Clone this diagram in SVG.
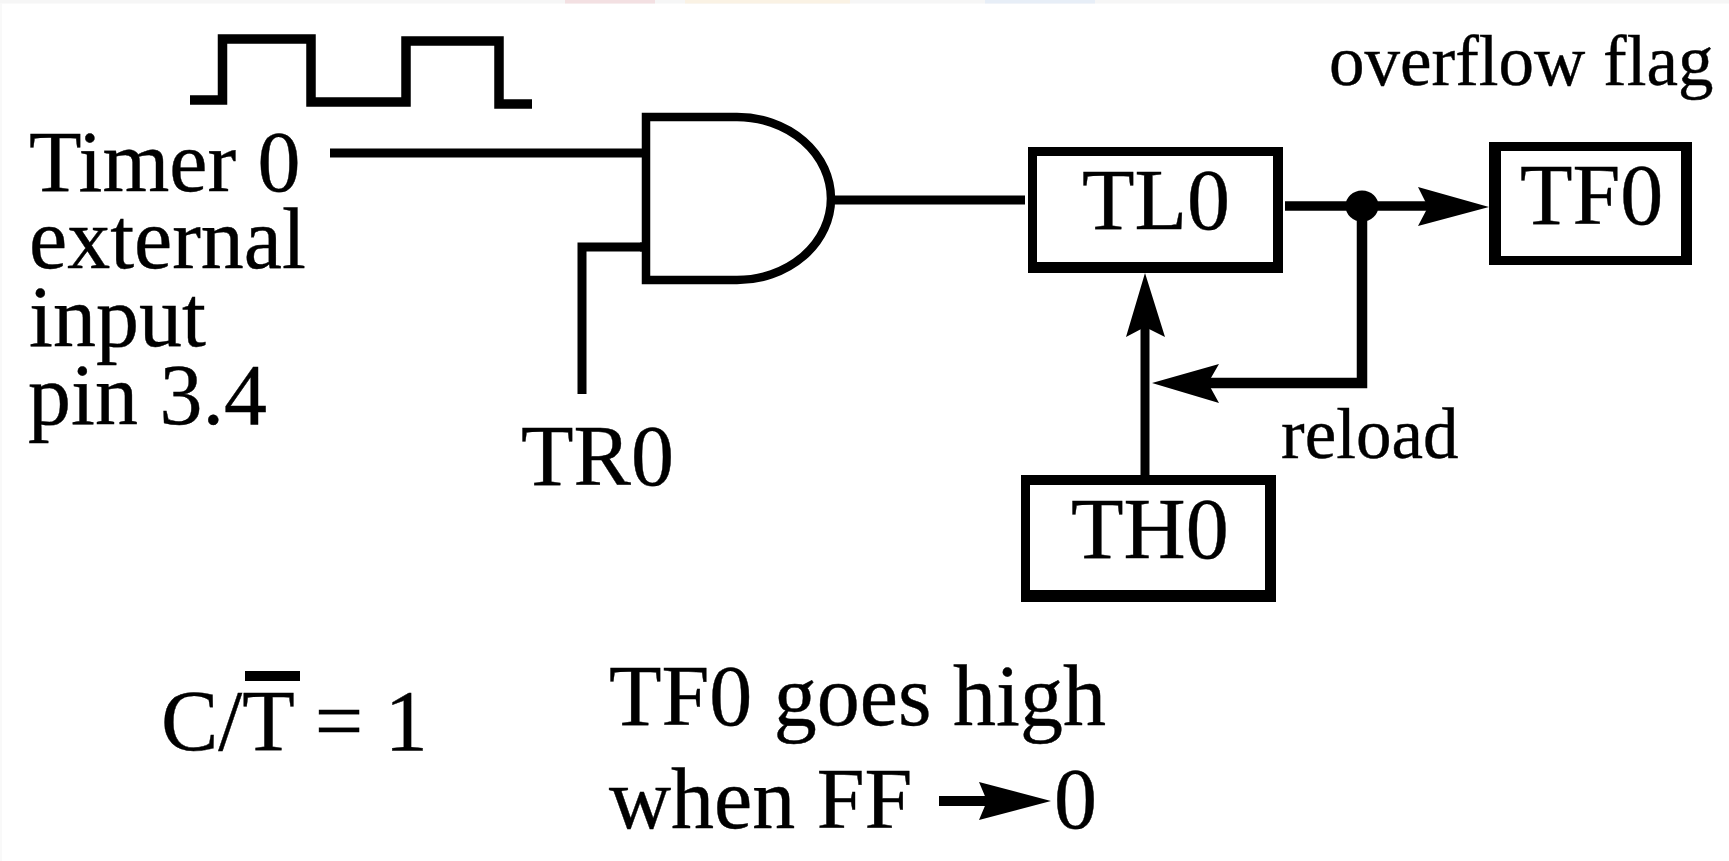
<svg xmlns="http://www.w3.org/2000/svg" width="1729" height="861" viewBox="0 0 1729 861">
<style>
text{font-family:"Liberation Serif","Times New Roman",serif;fill:#000;stroke:#000;stroke-width:.4}
.l{font-size:86px}
.s{font-size:71px}
.w{fill:none;stroke:#000;stroke-width:9}
.b{fill:#fff;stroke:#000;stroke-width:8.500}
.o{fill:#000}
.i{fill:#fff}
.h{fill:#000;stroke:none}
</style>
<rect width="1729" height="861" fill="#fff"/>
<rect width="1729" height="3.500" fill="#f6f6f6"/>
<rect y="3" width="2" height="858" fill="#f9f9f9"/>
<rect x="565" width="90" height="3.500" fill="#f3e0e2"/>
<rect x="685" width="165" height="3.500" fill="#faf2e4"/>
<rect x="985" width="110" height="3.500" fill="#e7eef7"/>
<g id="clock"><path class="w" style="stroke-width:9.500" d="M190 100H222.500V39H311V102H406V41H499V104H532"/></g>
<g id="connectors">
<path class="w" d="M330 153H646"/>
<path class="w" d="M582 394V247H650"/>
<path class="w" d="M834 200H1025"/>
<path class="w" style="stroke-width:9.500" d="M1285 206H1432"/>
<path class="w" style="stroke-width:10.500" d="M1362 206V383H1200"/>
<path class="w" d="M1145 476V320"/>
<polygon class="h" points="1489,207 1418,187 1428,207 1418,226"/>
<polygon class="h" points="1152,383 1219,364 1208,383 1219,403"/>
<polygon class="h" points="1145,273 1126,337 1145,327 1165,337"/>
<ellipse class="h" cx="1362" cy="206" rx="16.500" ry="15.500"/>
</g>
<g id="and-gate"><path class="b" d="M646 117H737A94 81.500 0 0 1 737 280H646Z"/><path class="w" d="M640 247H650"/></g>
<g id="tl0"><rect class="o" x="1028" y="147" width="255" height="126"/><rect class="i" x="1037" y="156" width="236" height="106"/><text class="l" x="1082" y="229">TL0</text></g>
<g id="tf0"><rect class="o" x="1489" y="142" width="203" height="123"/><rect class="i" x="1501" y="151" width="180" height="105"/><text class="l" x="1520" y="224">TF0</text></g>
<g id="th0"><rect class="o" x="1021" y="475" width="255" height="127"/><rect class="i" x="1030" y="485" width="235" height="105"/><text class="l" x="1071" y="558">TH0</text></g>
<g id="labels">
<text class="l" x="29" y="191">Timer 0</text>
<text class="l" x="29" y="268">external</text>
<text class="l" x="29" y="346">input</text>
<text class="l" x="28" y="424">pin 3.4</text>
<text class="l" x="521" y="485">TR0</text>
<text class="s" x="1329" y="85">overflow flag</text>
<text class="s" x="1281" y="458">reload</text>
<text class="l" x="161" y="750">C/T = 1</text>
<rect class="h" x="245" y="671" width="55" height="10"/>
<text class="l" x="609" y="725">TF0 goes high</text>
<text class="l" x="609" y="828">when FF</text>
<rect class="h" x="939" y="796" width="52" height="10"/>
<polygon class="h" points="1051,801 979,782 987,801 979,820"/>
<text class="l" x="1054" y="828">0</text>
</g>
</svg>
